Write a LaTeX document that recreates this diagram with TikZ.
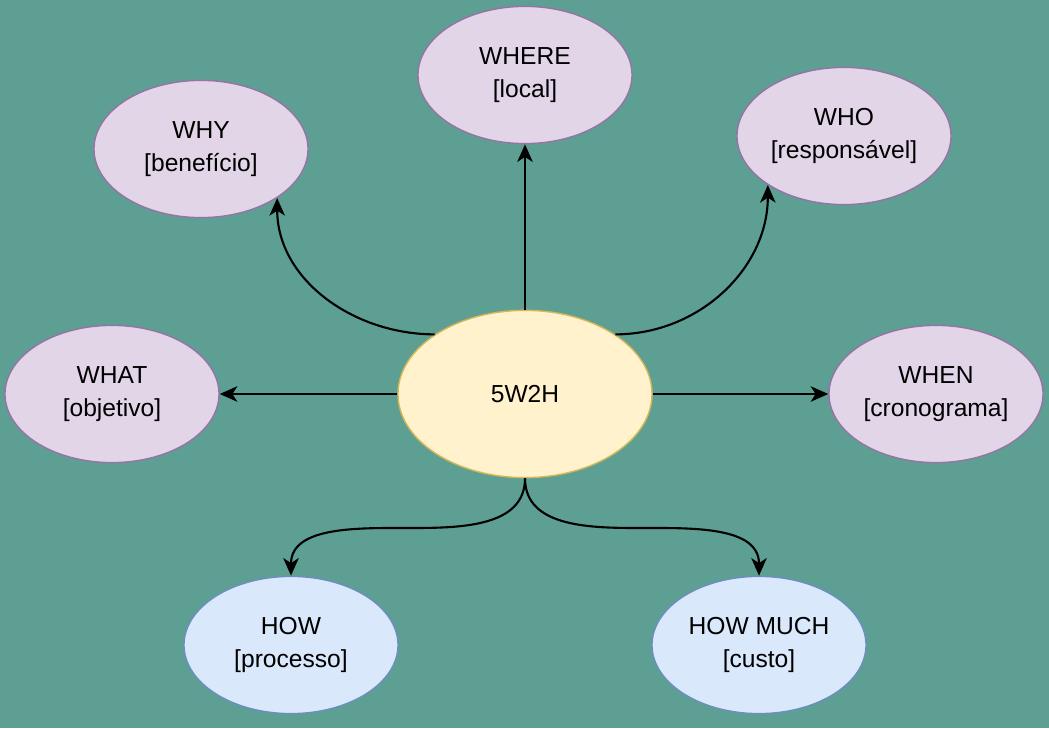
\documentclass[tikz,border=0pt]{standalone}
\usepackage{fontspec}
\setmainfont{Liberation Sans}
\usepackage{xcolor}
\usepackage{tikz}
\usetikzlibrary{positioning}
\usetikzlibrary{shapes,calc,arrows.meta}

\definecolor{bgteal}{RGB}{93,160,147}
\definecolor{purpfill}{HTML}{E1D5E7}
\definecolor{purpline}{HTML}{9673A6}
\definecolor{yelfill}{HTML}{FFF2CC}
\definecolor{yelline}{HTML}{D6B656}
\definecolor{bluefill}{HTML}{DAE8FC}
\definecolor{blueline}{HTML}{6C8EBF}

\begin{document}
\begin{tikzpicture}[x=0.025cm,y=-0.025cm,
  base node/.style={ellipse,inner sep=0pt,line width=1pt,align=center,
    minimum width=5.35cm,minimum height=3.43cm,
    font=\fontsize{17.5}{23}\selectfont},
  topic node/.style={base node,draw=purpline,fill=purpfill},
  how node/.style={base node,draw=blueline,fill=bluefill},
  hub node/.style={base node,draw=yelline,fill=yelfill,
    minimum width=6.35cm,minimum height=4.18cm},
  link/.style={-{Stealth[length=12.5pt,width=11pt,inset=3.5pt]},line width=1.5pt}]
\fill[bgteal] (0,0) rectangle (1049,728);
\node[hub node] at (525,394) (hub) {5W2H};
\node[topic node] at (525,75) (where) {WHERE\\{}[local]};
\node[topic node] at (201,149) (why) {WHY\\{}[benefício]};
\node[topic node] at (844,136) (who) {WHO\\{}[responsável]};
\node[topic node] at (112,394) (what) {WHAT\\{}[objetivo]};
\node[topic node] at (936,394) (when) {WHEN\\{}[cronograma]};
\node[how node] at (291,645) (how) {HOW\\{}[processo]};
\node[how node] at (759,645) (howmuch) {HOW MUCH\\{}[custo]};
\coordinate (howbend) at (408,528);
\coordinate (muchbend) at (642,528);
\draw[link] (hub.north) -- (where.south);
\draw[link] (hub.north west) to[out=180,in=-90] (why.south east);
\draw[link] (hub.north east) to[out=0,in=-90] (who.south west);
\draw[link] (hub.west) -- (what.east);
\draw[link] (hub.east) -- (when.west);
\draw[link] (hub.south) to[out=-90,in=0] (howbend) to[out=180,in=90] (how.north);
\draw[link] (hub.south) to[out=-90,in=180] (muchbend) to[out=0,in=90] (howmuch.north);
\end{tikzpicture}
\end{document}
